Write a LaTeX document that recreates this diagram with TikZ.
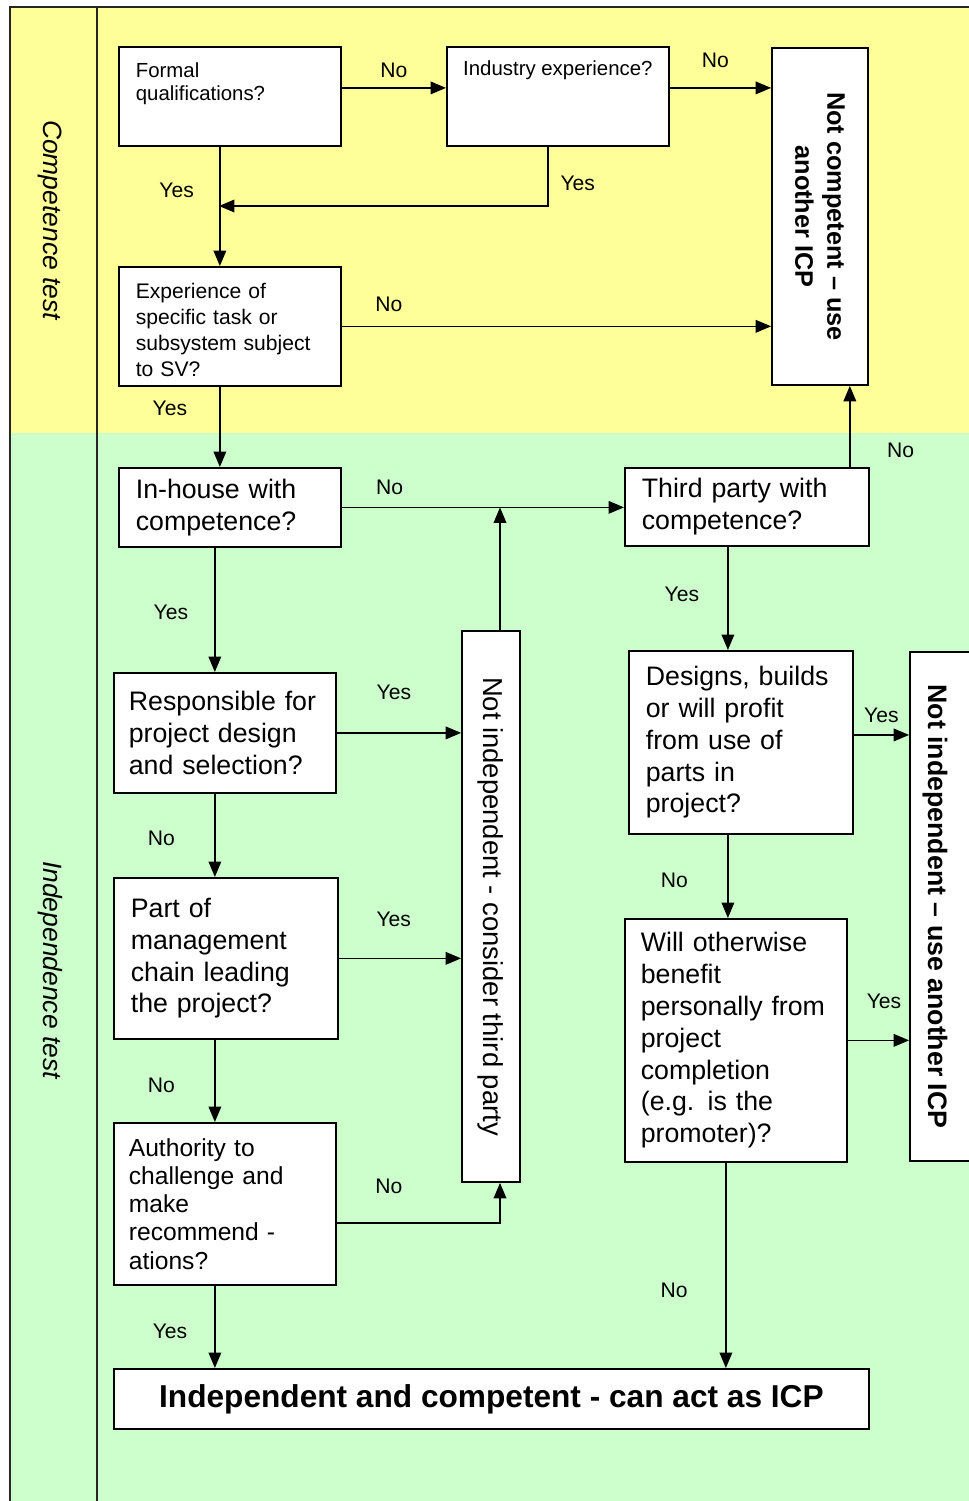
\documentclass[tikz,border=0pt]{standalone}
\usepackage{fontspec}
\setmainfont{Liberation Sans}
\usetikzlibrary{arrows.meta,positioning}
\definecolor{testyellow}{HTML}{FFFF99}
\definecolor{testgreen}{HTML}{CCFFCC}

\begin{document}
\begin{tikzpicture}[x=0.025cm,y=-0.025cm,
  qbox/.style={draw,fill=white,line width=1.2pt,align=left,inner ysep=0pt,
    font=\fontsize{19}{22.6}\selectfont},
  vbox/.style={draw,fill=white,line width=1.2pt,align=center,rotate=-90,inner sep=0pt},
  answer/.style={inner sep=0pt,font=\fontsize{15}{18}\selectfont},
  flow/.style={line width=1pt,-{Triangle[length=11pt,width=9pt]}},
  sidelabel/.style={rotate=-90,font=\itshape\fontsize{18.8}{22}\selectfont}]

\useasboundingbox (0,0) rectangle (968,1501);
\fill[testyellow] (10,7) rectangle (980,433);
\fill[testgreen] (10,433) rectangle (980,1510);
\draw[line width=0.8pt,black!85] (980,7) -- (10,7) -- (10,1510);
\draw[line width=0.8pt,black!85] (97,7) -- (97,1510);

\node[sidelabel] (ct) at (50,220) {Competence test};
\node[sidelabel] (it) at (50,970) {Independence test};

\node[qbox,anchor=north west,inner xsep=12.1pt,text width=133.7pt,
  text height=22pt,text depth=48.4pt,font=\fontsize{14.5}{16.4}\selectfont]
  (fq) at (118,46) {Formal\\qualifications?};
\node[qbox,anchor=north west,inner xsep=0pt,minimum width=157.9pt,
  text height=20.6pt,text depth=49.8pt,font=\fontsize{14.5}{16.4}\selectfont]
  (ie) at (446,46) {Industry experience?};
\node[vbox,minimum width=239.7pt,minimum height=68.3pt,
  font=\bfseries\fontsize{18}{22.8}\selectfont]
  (nc) at (820,216.5) {Not competent – use\\another ICP};
\node[qbox,anchor=north west,inner xsep=12.1pt,text width=133.7pt,
  text height=22.8pt,text depth=61.8pt,font=\fontsize{15}{18.5}\selectfont]
  (ex) at (118,266) {Experience of\\specific task or\\subsystem subject\\to SV?};

\node[qbox,anchor=north west,inner xsep=12.1pt,text width=133.7pt,minimum height=56.2pt]
  (ih) at (118,467) {In-house with\\competence?};
\node[qbox,anchor=north west,inner xsep=12.1pt,text width=149.4pt,minimum height=55.5pt]
  (tp) at (624,467) {Third party with\\competence?};
\node[qbox,anchor=north west,inner xsep=10.7pt,text width=136.5pt,minimum height=85.4pt]
  (rs) at (113,672) {Responsible for\\project design\\and selection?};
\node[vbox,minimum width=391.9pt,minimum height=41.3pt,
  font=\fontsize{19.5}{23}\selectfont]
  (ni) at (491,906.5) {Not independent - consider third party};
\node[qbox,anchor=north west,inner xsep=12.1pt,text width=135.1pt,minimum height=130.2pt]
  (db) at (628,650) {Designs, builds\\or will profit\\from use of\\parts in\\project?};
\node[vbox,minimum width=362pt,minimum height=42.7pt,text height=21pt,text depth=4pt,
  font=\bfseries\fontsize{19}{22.8}\selectfont]
  (nj) at (940,906.5) {Not independent – use another ICP};
\node[qbox,anchor=north west,inner xsep=12.1pt,text width=135.1pt,minimum height=114.5pt]
  (pm) at (113,877) {Part of\\management\\chain leading\\the project?};
\node[qbox,anchor=north west,inner xsep=11.4pt,text width=135.1pt,minimum height=172.8pt]
  (wb) at (624,918) {Will otherwise\\benefit\\personally from\\project\\completion\\(e.g. is the\\promoter)?};
\node[qbox,anchor=north west,inner xsep=10.7pt,text width=136.5pt,minimum height=115.2pt,
  font=\fontsize{17.5}{20.1}\selectfont]
  (au) at (113,1122) {Authority to\\challenge and\\make\\recommend -\\ations?};
\node[qbox,anchor=north west,align=center,inner xsep=0pt,minimum width=537pt,minimum height=42.7pt,
  font=\bfseries\fontsize{22.5}{27}\selectfont]
  (fin) at (113,1368) {Independent and competent - can act as ICP};

\coordinate (merge) at (219,206);

\draw[flow] ([yshift=6pt]fq.east) -- node[answer,midway,above=6.5pt] (l1) {No} ([yshift=6pt]ie.west);
\draw[flow] ([yshift=6pt]ie.east) -- node[answer,pos=0.45,above=14pt] (l2) {No} ([yshift=6pt]ie.east -| nc.south);
\draw[flow] ([xshift=-7.1pt]fq.south) -- node[answer,pos=0.37,left=18pt] (l3) {Yes} ([xshift=-7.1pt]ex.north);
\draw[flow] ([xshift=-7.1pt]ie.south) |- node[answer,pos=0.31,right=8.5pt] (l4) {Yes} (merge);
\draw[flow] (ex.east) -- node[answer,pos=0.11,above=9.6pt] (l5) {No} (ex.east -| nc.south);
\draw[flow] ([xshift=-7.1pt]ex.south) -- node[answer,pos=0.27,left=22.8pt] (l6) {Yes} ([xshift=-7.1pt]ih.north);

\draw[flow] (ih.east) -- node[answer,pos=0.17,above=8.2pt] (l7) {No} (ih.east -| tp.west);
\draw[flow] ([xshift=6.4pt]ni.west) -- ([xshift=6.4pt]ni.west |- ih.east);
\draw[flow] ([xshift=-14.2pt]tp.north east) -- node[answer,pos=0.21,right=26pt] (l8) {No} ([xshift=-14.2pt]tp.north east |- nc.east);
\draw[flow] ([xshift=-10.7pt]ih.south) -- node[answer,pos=0.52,left=18.5pt] (l9) {Yes} ([xshift=-10.7pt]ih.south |- rs.north);
\draw[flow] (rs.east) -- node[answer,pos=0.46,above=23pt] (l10) {Yes} (rs.east -| ni.south);
\draw[flow] ([xshift=-7.1pt]rs.south) -- node[answer,pos=0.54,left=28pt] (l11) {No} ([xshift=-7.1pt]rs.south |- pm.north);
\draw[flow] (pm.east) -- node[answer,pos=0.45,above=21.7pt] (l12) {Yes} (pm.east -| ni.south);
\draw[flow] ([xshift=-7.8pt]pm.south) -- node[answer,pos=0.55,left=28pt] (l13) {No} ([xshift=-7.8pt]pm.south |- au.north);
\draw[flow] ([yshift=-13.5pt]au.east) -| node[answer,pos=0.16,above=20pt] (l14) {No} ([xshift=6.4pt]ni.east);
\draw[flow] ([xshift=-7.1pt]au.south) -- node[answer,pos=0.55,left=19.2pt] (l15) {Yes} ([xshift=-7.1pt]au.south |- fin.north);

\draw[flow] ([xshift=-13.5pt]tp.south) -- node[answer,pos=0.46,left=20pt] (l16) {Yes} ([xshift=-13.5pt]tp.south |- db.north);
\draw[flow] ([yshift=5.3pt]db.east) -- node[answer,midway,above=8.2pt] (l17) {Yes} ([yshift=5.3pt]db.east -| nj.south);
\draw[flow] ([xshift=-9.2pt]db.south) -- node[answer,pos=0.55,left=28pt] (l18) {No} ([xshift=-9.2pt]db.south |- wb.north);
\draw[flow] (wb.east) -- node[answer,pos=0.59,above=21.7pt] (l19) {Yes} (wb.east -| nj.south);
\draw[flow] ([xshift=-7.1pt]wb.south) -- node[answer,pos=0.62,left=26.7pt] (l20) {No} ([xshift=-7.1pt]wb.south |- fin.north);

\end{tikzpicture}
\end{document}
